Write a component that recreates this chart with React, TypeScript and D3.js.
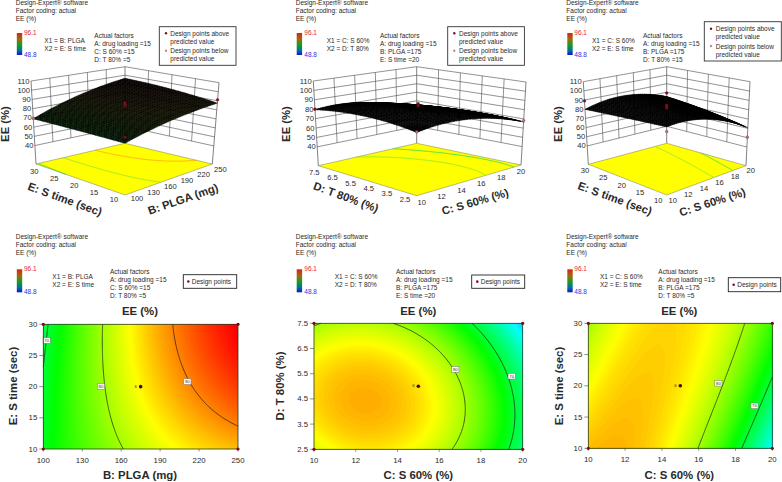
import React from "react";
import * as d3 from "d3";

// ---------- data ----------
const plgaTicks = [100, 130, 160, 190, 220, 250];
const sTimeTicks = [10, 15, 20, 25, 30];
const s60Ticks = [10, 12, 14, 16, 18, 20];
const t80Ticks = [2.5, 3.5, 4.5, 5.5, 6.5, 7.5];
const eeTicks = [40, 50, 60, 70, 80, 90, 100, 110];
const colorDomain = [48.8, 60.625, 72.45, 84.275, 96.1];
const colorRange = ["#0000ff", "#00ffff", "#00ff00", "#ffff00", "#ff0000"];

// rows: second factor ascending; columns: first factor ascending
const eePlgaTime = [
  [71, 77, 81.5, 85.5, 87.5],
  [71, 77.5, 83, 87.5, 90],
  [70.5, 78, 84.5, 90, 94],
  [70, 78, 85.5, 91.5, 95.5],
  [69, 78, 86, 92, 96],
];
const eeS60T80 = [
  [82.5, 85.3, 83.3, 77, 66.5],
  [85.5, 88, 86, 79.5, 68.6],
  [85.9, 87.8, 85.4, 78.4, 67],
  [83.9, 85.4, 82.4, 75, 63.5],
  [79.6, 81, 78, 71, 58],
];
const eeS60Time = [
  [87, 88.5, 81.5, 73.5, 61],
  [85.5, 88, 84.5, 77, 65.5],
  [83.5, 87, 86, 79, 69],
  [82, 85.5, 86, 81, 71.5],
  [80.5, 84.5, 85.5, 83.5, 75],
];

const points3dPlgaTime = [
  { x: 100, y: 30, z: 69.5, above: false },
  { x: 250, y: 10, z: 91, above: true },
  { x: 100, y: 10, z: 77, above: true },
  { x: 175, y: 20, z: 86, above: true },
  { x: 175, y: 20, z: 87.5, above: true },
  { x: 175, y: 20, z: 89, above: true },
];
const points3dS60T80 = [
  { x: 10, y: 7.5, z: 80, above: true },
  { x: 20, y: 2.5, z: 68, above: false },
  { x: 10, y: 2.5, z: 83.4, above: false },
  { x: 15, y: 5, z: 86, above: true },
  { x: 15, y: 5, z: 87, above: true },
  { x: 15, y: 5, z: 88.5, above: true },
];
const points3dS60Time = [
  { x: 10, y: 30, z: 89, above: true },
  { x: 20, y: 10, z: 50.5, above: false },
  { x: 20, y: 30, z: 79, above: true },
  { x: 10, y: 10, z: 82.7, above: false },
  { x: 15, y: 20, z: 83.5, above: true },
  { x: 15, y: 20, z: 85, above: true },
  { x: 15, y: 20, z: 86.5, above: true },
];

const labelsPlgaTime = [
  { x: 102.6, y: 27.4, v: 70 },
  { x: 144.4, y: 20, v: 80 },
  { x: 211, y: 20.8, v: 90 },
];
const labelsS60T80 = [
  { x: 16.77, y: 5.67, v: 80 },
  { x: 19.47, y: 5.4, v: 70 },
];
const labelsS60Time = [
  { x: 17.07, y: 20.4, v: 80 },
  { x: 19.03, y: 16.8, v: 70 },
];

const headerLines = ["Design-Expert® software", "Factor coding: actual", "EE (%)"];
const factorsA = ["Actual factors", "A: drug loading =15", "C: S 60% =15", "D: T 80% =5"];
const factorsB = ["Actual factors", "A: drug loading =15", "B: PLGA  =175", "E: S time =20"];
const factorsC3d = ["Actual factors", "A: drug loading =15", "B: PLGA  =175", "D: T 80% =15"];
const factorsC = ["Actual factors", "A: drug loading =15", "B: PLGA  =175", "D: T 80% =5"];
const legend3d = ["Design points above", "predicted value", "Design points below", "predicted value"];
const contourLevels = [70, 80, 90];

// ---------- helpers ----------
const FONT = "'Liberation Sans', Arial, sans-serif";
const TXT = "#2a2a2a";
const color = d3.scaleLinear<string>().domain(colorDomain).range(colorRange).clamp(true);
const floorLineColor = d3.scaleLinear<string>().domain([70, 80, 90]).range(["#10d850", "#78e038", "#ff9a10"]);

// the response surfaces are smooth: a low-order least-squares fit through the read grid values
const basis = (u: number, v: number) => [1, u, v, u * u, u * v, v * v, u * u * v, u * v * v];
const fits = new Map<number[][], number[]>();
function fitGrid(g: number[][]) {
  const cached = fits.get(g);
  if (cached) return cached;
  const n = 8;
  const A = Array.from({ length: n }, () => new Array(n + 1).fill(0));
  g.forEach((row, j) =>
    row.forEach((val, i) => {
      const b = basis(i / (row.length - 1), j / (g.length - 1));
      for (let r = 0; r < n; r++) {
        for (let c = 0; c < n; c++) A[r][c] += b[r] * b[c];
        A[r][n] += b[r] * val;
      }
    })
  );
  for (let c = 0; c < n; c++) {
    let p = c;
    for (let r = c + 1; r < n; r++) if (Math.abs(A[r][c]) > Math.abs(A[p][c])) p = r;
    [A[c], A[p]] = [A[p], A[c]];
    for (let r = 0; r < n; r++) {
      if (r === c) continue;
      const f = A[r][c] / A[c][c];
      for (let k = c; k <= n; k++) A[r][k] -= f * A[c][k];
    }
  }
  const out = A.map((row, i) => row[n] / row[i]);
  fits.set(g, out);
  return out;
}
function sampleGrid(g: number[][], u: number, v: number) {
  const co = fitGrid(g);
  const b = basis(u, v);
  return b.reduce((s, x, i) => s + x * co[i], 0);
}
function fine(g: number[][], n: number) {
  const out = new Array(n * n);
  for (let j = 0; j < n; j++)
    for (let i = 0; i < n; i++) out[j * n + i] = sampleGrid(g, i / (n - 1), j / (n - 1));
  return out as number[];
}
const N = 121;
const clamp01 = (a: number) => Math.max(0, Math.min(1, a));
const toUnit = (a: number) => clamp01((a - 0.5) / (N - 1));

function contourRings(values: number[], level: number) {
  const c = d3.contours().size([N, N]).contour(values, level);
  const segs: [number, number][][] = [];
  const onEdge = (p: number[]) => p[0] <= 0.01 || p[0] >= N - 0.01 || p[1] <= 0.01 || p[1] >= N - 0.01;
  c.coordinates.forEach((poly: any) =>
    poly.forEach((ring: number[][]) => {
      let cur: [number, number][] = [];
      const start = ring.findIndex(onEdge);
      const ordered = start > 0 ? ring.slice(start).concat(ring.slice(1, start + 1)) : ring;
      ordered.forEach((p) => {
        if (onEdge(p)) {
          if (cur.length > 1) segs.push(cur);
          cur = [];
        } else cur.push([toUnit(p[0]), toUnit(p[1])]);
      });
      if (cur.length > 1) segs.push(cur);
    })
  );
  return segs;
}

const T = ({ x, y, c = TXT, s = 6.5, w, a, r, children }: any) => (
  <text
    x={x}
    y={y}
    fill={c}
    fontSize={s}
    fontWeight={w}
    textAnchor={a}
    dominantBaseline="central"
    transform={r !== undefined ? `rotate(${r} ${x} ${y})` : undefined}
    style={{ fontFamily: FONT }}
  >
    {children}
  </text>
);

const barStops = [
  [0, "#e0200c"],
  [0.28, "#a06a10"],
  [0.55, "#10a020"],
  [0.8, "#0070a0"],
  [1, "#1010d8"],
] as const;

function Info({ id, hx, hy, bx, by, bh, nums, x1x, x1y, x1, x2, fx, fy, factors }: any) {
  return (
    <g>
      {headerLines.map((l, i) => (
        <T key={l} x={hx} y={hy + i * 8}>{l}</T>
      ))}
      <defs>
        <linearGradient id={id} x1="0" x2="0" y1="0" y2="1">
          {barStops.map(([o, c]) => (
            <stop key={o} offset={o} stopColor={c} />
          ))}
        </linearGradient>
      </defs>
      <rect x={bx} y={by} width={5.4} height={bh} fill={`url(#${id})`} />
      <T x={nums} y={by - 1} c="#e8262a">96.1</T>
      <T x={nums} y={by + bh - 1} c="#3333dd">48.8</T>
      <T x={x1x} y={x1y}>{x1}</T>
      <T x={x1x} y={x1y + 8.3}>{x2}</T>
      {factors.map((l: string, i: number) => (
        <T key={l} x={fx} y={fy + i * 8}>{l}</T>
      ))}
    </g>
  );
}

function Legend3d({ x, y, w, h, dx, tx, ys }: any) {
  return (
    <g>
      <rect x={x} y={y} width={w} height={h} fill="#fff" stroke="#333" strokeWidth={0.9} />
      <circle cx={dx} cy={ys[0]} r={1.2} fill="#7a1020" />
      <circle cx={dx} cy={ys[2]} r={1.2} fill="#c08a92" />
      {legend3d.map((l, i) => (
        <T key={i} x={tx} y={ys[i]}>{l}</T>
      ))}
    </g>
  );
}

function Surface({ cfg }: any) {
  const { f, b, xDom, yDom, xTicks, yTicks, grid, pts } = cfg;
  const zs = d3.scaleLinear().domain([20, 110]).range([0, 1]);
  const us = d3.scaleLinear().domain(xDom).range([0, 1]);
  const vs = d3.scaleLinear().domain(yDom).range([0, 1]);
  const P = (u: number, v: number, w: number): [number, number] => {
    const bl = (k: 0 | 1, c: any) =>
      (1 - u) * (1 - v) * c.front[k] + u * (1 - v) * c.right[k] + (1 - u) * v * c.left[k] + u * v * c.back[k];
    return [bl(0, f) * (1 - w) + bl(0, b) * w, bl(1, f) * (1 - w) + bl(1, b) * w];
  };
  const line = d3.line();
  const M = 41;
  const quads: any[] = [];
  const dark = d3.interpolateRgb;
  for (let i = M - 2; i >= 0; i--)
    for (let j = M - 2; j >= 0; j--) {
      const u0 = i / (M - 1), u1 = (i + 1) / (M - 1), v0 = j / (M - 1), v1 = (j + 1) / (M - 1);
      const z = (u: number, v: number) => sampleGrid(grid, u, v);
      const c = [[u0, v0], [u1, v0], [u1, v1], [u0, v1]].map(([u, v]) => P(u, v, zs(z(u, v))));
      const area = Math.abs((c[2][0] - c[0][0]) * (c[3][1] - c[1][1]) - (c[3][0] - c[1][0]) * (c[2][1] - c[0][1])) / 2;
      // a tightly packed mesh looks black: tint only where a cell opens up on screen
      const t = Math.min(1, Math.max(0, (area - cfg.meshMin) / 14)) * cfg.tint;
      quads.push({ d: line(c as any) + "Z", fill: dark("#000", color(z((u0 + u1) / 2, (v0 + v1) / 2)))(t), k: `${i}-${j}` });
    }
  const values = fine(grid, N);
  const floorPoly = [P(0, 0, 0), P(1, 0, 0), P(1, 1, 0), P(0, 1, 0)];
  const wall = "#4a4a4a";
  const o = cfg.off;
  const lerp2 = (a: number[], c: number[], t: number) => [a[0] + (c[0] - a[0]) * t, a[1] + (c[1] - a[1]) * t];
  return (
    <g>
      {eeTicks.map((z) => (
        <path key={z} d={line([P(0, 1, zs(z)), P(1, 1, zs(z)), P(1, 0, zs(z))]) as string} fill="none" stroke={wall} strokeWidth={0.6} />
      ))}
      {xTicks.slice(1, -1).map((x: number) => (
        <path key={x} d={line([P(us(x), 1, zs(40)), P(us(x), 1, 1)]) as string} stroke={wall} strokeWidth={0.6} />
      ))}
      {yTicks.slice(1, -1).map((y: number) => (
        <path key={y} d={line([P(1, vs(y), zs(40)), P(1, vs(y), 1)]) as string} stroke={wall} strokeWidth={0.6} />
      ))}
      {[[0, 1], [1, 1], [1, 0]].map(([u, v]) => (
        <path key={`${u}${v}`} d={line([P(u, v, 0), P(u, v, 1)]) as string} stroke={wall} strokeWidth={0.7} />
      ))}
      <path d={line(floorPoly as any) + "Z"} fill="#ffff00" stroke="#555" strokeWidth={0.4} />
      {contourLevels.map((lv) =>
        contourRings(values, lv).map((seg, i) => (
          <path key={`${lv}-${i}`} d={line(seg.map(([u, v]) => P(u, v, 0))) as string} fill="none" stroke={floorLineColor(lv)} strokeWidth={0.7} />
        ))
      )}
      {quads.map((q) => (
        <path key={q.k} d={q.d} fill={q.fill} stroke={q.fill} strokeWidth={0.4} />
      ))}
      {pts.map((p: any, i: number) => {
        const [cx, cy] = P(us(p.x), vs(p.y), zs(p.z));
        return <circle key={i} cx={cx} cy={cy} r={1.4} fill={p.above ? "#8a0f1e" : "#b98088"} stroke="#4a0a10" strokeWidth={0.3} />;
      })}
      {eeTicks.map((z) => {
        const [x, y] = P(0, 1, zs(z));
        return <T key={z} x={x - 1.5} y={y} s={7.6} a="end">{z}</T>;
      })}
      {xTicks.map((x: number) => {
        const u = us(x);
        const [px, py] = P(u, 0, 0);
        const d = lerp2(o.x0, o.x1, u);
        return <T key={x} x={px + d[0]} y={py + d[1]} s={7.6} a="middle">{x}</T>;
      })}
      {yTicks.map((y: number) => {
        const v = vs(y);
        const [px, py] = P(0, v, 0);
        const d = lerp2(o.y0, o.y1, v);
        return <T key={y} x={px + d[0]} y={py + d[1]} s={7.6} a="middle">{y}</T>;
      })}
      <T x={cfg.xt[0]} y={cfg.xt[1]} r={cfg.xt[2]} s={11.3} w="bold" a="middle">{cfg.xTitle}</T>
      <T x={cfg.yt[0]} y={cfg.yt[1]} r={cfg.yt[2]} s={11.3} w="bold" a="middle">{cfg.yTitle}</T>
      <T x={cfg.zt[0]} y={cfg.zt[1]} r={-90} s={11.3} w="bold" a="middle">EE (%)</T>
    </g>
  );
}

function Contour({ cfg }: any) {
  const { l, r, t, bt, xDom, yDom, xTicks, yTicks, grid, labels } = cfg;
  const xs = d3.scaleLinear().domain(xDom).range([l, r]);
  const ys = d3.scaleLinear().domain(yDom).range([bt, t]);
  const ux = d3.scaleLinear().domain([0, 1]).range([l, r]);
  const uy = d3.scaleLinear().domain([0, 1]).range([bt, t]);
  const values = fine(grid, N);
  const path = d3.geoPath(
    d3.geoTransform({
      point(this: any, x: number, y: number) {
        this.stream.point(ux(toUnit(x)), uy(toUnit(y)));
      },
    })
  );
  const lo = d3.min(values) as number, hi = d3.max(values) as number;
  const levels = d3.range(Math.floor(lo / 0.3) * 0.3, hi, 0.3);
  const gen = d3.contours().size([N, N]);
  const line = d3.line();
  const corners = [[xDom[0], yDom[0]], [xDom[0], yDom[1]], [xDom[1], yDom[0]], [xDom[1], yDom[1]]];
  const cx = (xDom[0] + xDom[1]) / 2, cy = (yDom[0] + yDom[1]) / 2;
  return (
    <g>
      <rect x={l} y={t} width={r - l} height={bt - t} fill={color(lo)} />
      {levels.map((v) => (
        <path key={v} d={path(gen.contour(values, v) as any) as string} fill={color(v + 0.15)} />
      ))}
      {contourLevels.map((lv) =>
        contourRings(values, lv).map((seg, i) => (
          <path key={`${lv}-${i}`} d={line(seg.map(([u, v]) => [ux(u), uy(v)] as [number, number])) as string} fill="none" stroke="#1a1a1a" strokeWidth={0.7} />
        ))
      )}
      {labels.map((b: any) => (
        <g key={b.v}>
          <rect x={xs(b.x) - 3.6} y={ys(b.y) - 2.8} width={7.2} height={5.6} fill="#fff" stroke="#777" strokeWidth={0.5} />
          <T x={xs(b.x)} y={ys(b.y)} s={4.2} a="middle">{b.v}</T>
        </g>
      ))}
      <rect x={l} y={t} width={r - l} height={bt - t} fill="none" stroke="#2a3a20" strokeWidth={0.8} />
      {xTicks.map((x: number) => (
        <g key={x}>
          <line x1={xs(x)} x2={xs(x)} y1={bt} y2={bt + 2.5} stroke="#444" strokeWidth={0.6} />
          <T x={xs(x)} y={bt + 11} s={7.8} a="middle">{x}</T>
        </g>
      ))}
      {yTicks.map((y: number) => (
        <g key={y}>
          <line x1={l - 4} x2={l} y1={ys(y)} y2={ys(y)} stroke="#444" strokeWidth={0.6} />
          <T x={l - 6} y={ys(y)} s={7.8} a="end">{y}</T>
        </g>
      ))}
      {corners.map(([a, b2], i) => (
        <circle key={i} cx={xs(a)} cy={ys(b2)} r={1.6} fill="#7a0a14" />
      ))}
      <circle cx={xs(cx)} cy={ys(cy)} r={1.8} fill="#4a060c" />
      <T x={xs(cx) - 5} y={ys(cy) - 0.5} s={4.2} a="middle">6</T>
      <T x={cfg.title} y={311} s={11.4} w="bold" a="middle">EE (%)</T>
      <T x={cfg.title} y={475} s={11.4} w="bold" a="middle">{cfg.xTitle}</T>
      <T x={cfg.yt} y={386} r={-90} s={11.4} w="bold" a="middle">{cfg.yTitle}</T>
    </g>
  );
}

function LegendSimple({ x, y, w, h, dx, tx }: any) {
  return (
    <g>
      <rect x={x} y={y} width={w} height={h} fill="#fff" stroke="#222" strokeWidth={0.9} />
      <circle cx={dx} cy={y + h / 2} r={1.3} fill="#8a0f1e" />
      <T x={tx} y={y + h / 2}>Design points</T>
    </g>
  );
}

const surfaces = [
  {
    f: { front: [125, 195], left: [36, 164], right: [212.3, 164], back: [125, 143.3] },
    b: { front: [125, 104], left: [31, 81], right: [219, 82.7], back: [125, 66.7] },
    xDom: [100, 250], yDom: [10, 30], xTicks: plgaTicks, yTicks: sTimeTicks, grid: eePlgaTime, pts: points3dPlgaTime,
    off: { x0: [12, 3.5], x1: [8, 5], y0: [-11, 4], y1: [-1.7, 7.7] },
    xt: [183, 199, -19], yt: [65, 199, 20], zt: [4.5, 124], meshMin: 2, tint: 0.38,
    xTitle: "B: PLGA (mg)", yTitle: "E: S time (sec)",
  },
  {
    f: { front: [416.7, 195.7], left: [318.3, 165.7], right: [521, 165], back: [416.7, 143.3] },
    b: { front: [416.7, 105], left: [313.3, 81], right: [526, 82], back: [416.7, 66.7] },
    xDom: [10, 20], yDom: [2.5, 7.5], xTicks: s60Ticks, yTicks: t80Ticks, grid: eeS60T80, pts: points3dS60T80,
    off: { x0: [5, 6.6], x1: [0, 6.7], y0: [-11.7, 3.3], y1: [-4, 7] },
    xt: [475, 201.7, -16], yt: [346, 197, 20], zt: [286, 124], meshMin: 6, tint: 0.3,
    xTitle: "C: S 60% (%)", yTitle: "D: T 80% (%)",
  },
  {
    f: { front: [666.7, 195], left: [588.3, 164.3], right: [746, 165.7], back: [666.7, 143.3] },
    b: { front: [666.7, 104], left: [583.3, 81.7], right: [750, 81.7], back: [666.7, 66.7] },
    xDom: [10, 20], yDom: [10, 30], xTicks: s60Ticks, yTicks: sTimeTicks, grid: eeS60Time, pts: points3dS60Time,
    off: { x0: [6, 5], x1: [4.7, 5], y0: [-8.4, 5], y1: [-3.3, 5.7] },
    xt: [712.3, 202, -18], yt: [615, 198.3, 20], zt: [558, 124], meshMin: 12, tint: 0,
    xTitle: "C: S 60% (%)", yTitle: "E: S time (sec)",
  },
];

const flats = [
  { l: 43.3, r: 238, t: 324.3, bt: 449, xDom: [100, 250], yDom: [10, 30], xTicks: plgaTicks, yTicks: sTimeTicks, grid: eePlgaTime, labels: labelsPlgaTime, title: 140, yt: 12.7, xTitle: "B: PLGA (mg)", yTitle: "E: S time (sec)" },
  { l: 314, r: 522.7, t: 323.3, bt: 449.3, xDom: [10, 20], yDom: [2.5, 7.5], xTicks: s60Ticks, yTicks: t80Ticks, grid: eeS60T80, labels: labelsS60T80, title: 418.3, yt: 280, xTitle: "C: S 60% (%)", yTitle: "D: T 80% (%)" },
  { l: 588.3, r: 772.3, t: 323.3, bt: 448.3, xDom: [10, 20], yDom: [10, 30], xTicks: s60Ticks, yTicks: sTimeTicks, grid: eeS60Time, labels: labelsS60Time, title: 679.3, yt: 559.3, xTitle: "C: S 60% (%)", yTitle: "E: S time (sec)" },
];

export default function App() {
  return (
    <svg width={782} height={482} viewBox="0 0 782 482" style={{ position: "absolute", left: 0, top: 0, background: "#fff" }}>
      <Info id="b1" hx={15.7} hy={2.7} bx={16.8} by={33} bh={22} nums={24} x1x={44.3} x1y={40} x1="X1 = B: PLGA" x2="X2 = E: S time" fx={94.3} fy={35.3} factors={factorsA} />
      <Info id="b2" hx={295.7} hy={2.7} bx={296.7} by={33} bh={22} nums={304.3} x1x={326.7} x1y={40} x1="X1 = C: S 60%" x2="X2 = D: T 80%" fx={380} fy={35.3} factors={factorsB} />
      <Info id="b3" hx={566.3} hy={2.7} bx={567.3} by={33} bh={22} nums={574.3} x1x={592} x1y={40} x1="X1 = C: S 60%" x2="X2 = E: S time" fx={643} fy={35.3} factors={factorsC3d} />
      <Legend3d x={159.3} y={26.7} w={76.7} h={38.6} dx={166} tx={170.3} ys={[33.3, 41, 50.7, 58.7]} />
      <Legend3d x={447.7} y={26.7} w={76.7} h={38.6} dx={454.3} tx={459} ys={[33.3, 41, 50.7, 58.7]} />
      <Legend3d x={704.3} y={21.7} w={77} h={39.3} dx={711} tx={715.7} ys={[28.7, 36.7, 46, 54]} />
      {surfaces.map((c, i) => (
        <Surface key={i} cfg={c} />
      ))}

      <Info id="b4" hx={15.7} hy={236.7} bx={16.8} by={269.3} bh={23} nums={24} x1x={52.3} x1y={276} x1="X1 = B: PLGA" x2="X2 = E: S time" fx={110} fy={271.7} factors={factorsA} />
      <Info id="b5" hx={295.7} hy={236.7} bx={296.7} by={269.3} bh={23} nums={304.3} x1x={334.7} x1y={276} x1="X1 = C: S 60%" x2="X2 = D: T 80%" fx={396} fy={271.7} factors={factorsB} />
      <Info id="b6" hx={566.3} hy={236.7} bx={567.3} by={269.3} bh={23} nums={574.3} x1x={600} x1y={276} x1="X1 = C: S 60%" x2="X2 = E: S time" fx={658.3} fy={271.7} factors={factorsC} />
      <LegendSimple x={183.3} y={274.7} w={53.4} h={13.6} dx={188.3} tx={191.7} />
      <LegendSimple x={471.7} y={275} w={53} h={13.3} dx={477.3} tx={480.7} />
      <LegendSimple x={728.3} y={277.7} w={52.4} h={14} dx={733.7} tx={737.3} />
      {flats.map((c, i) => (
        <Contour key={i} cfg={c} />
      ))}
    </svg>
  );
}
